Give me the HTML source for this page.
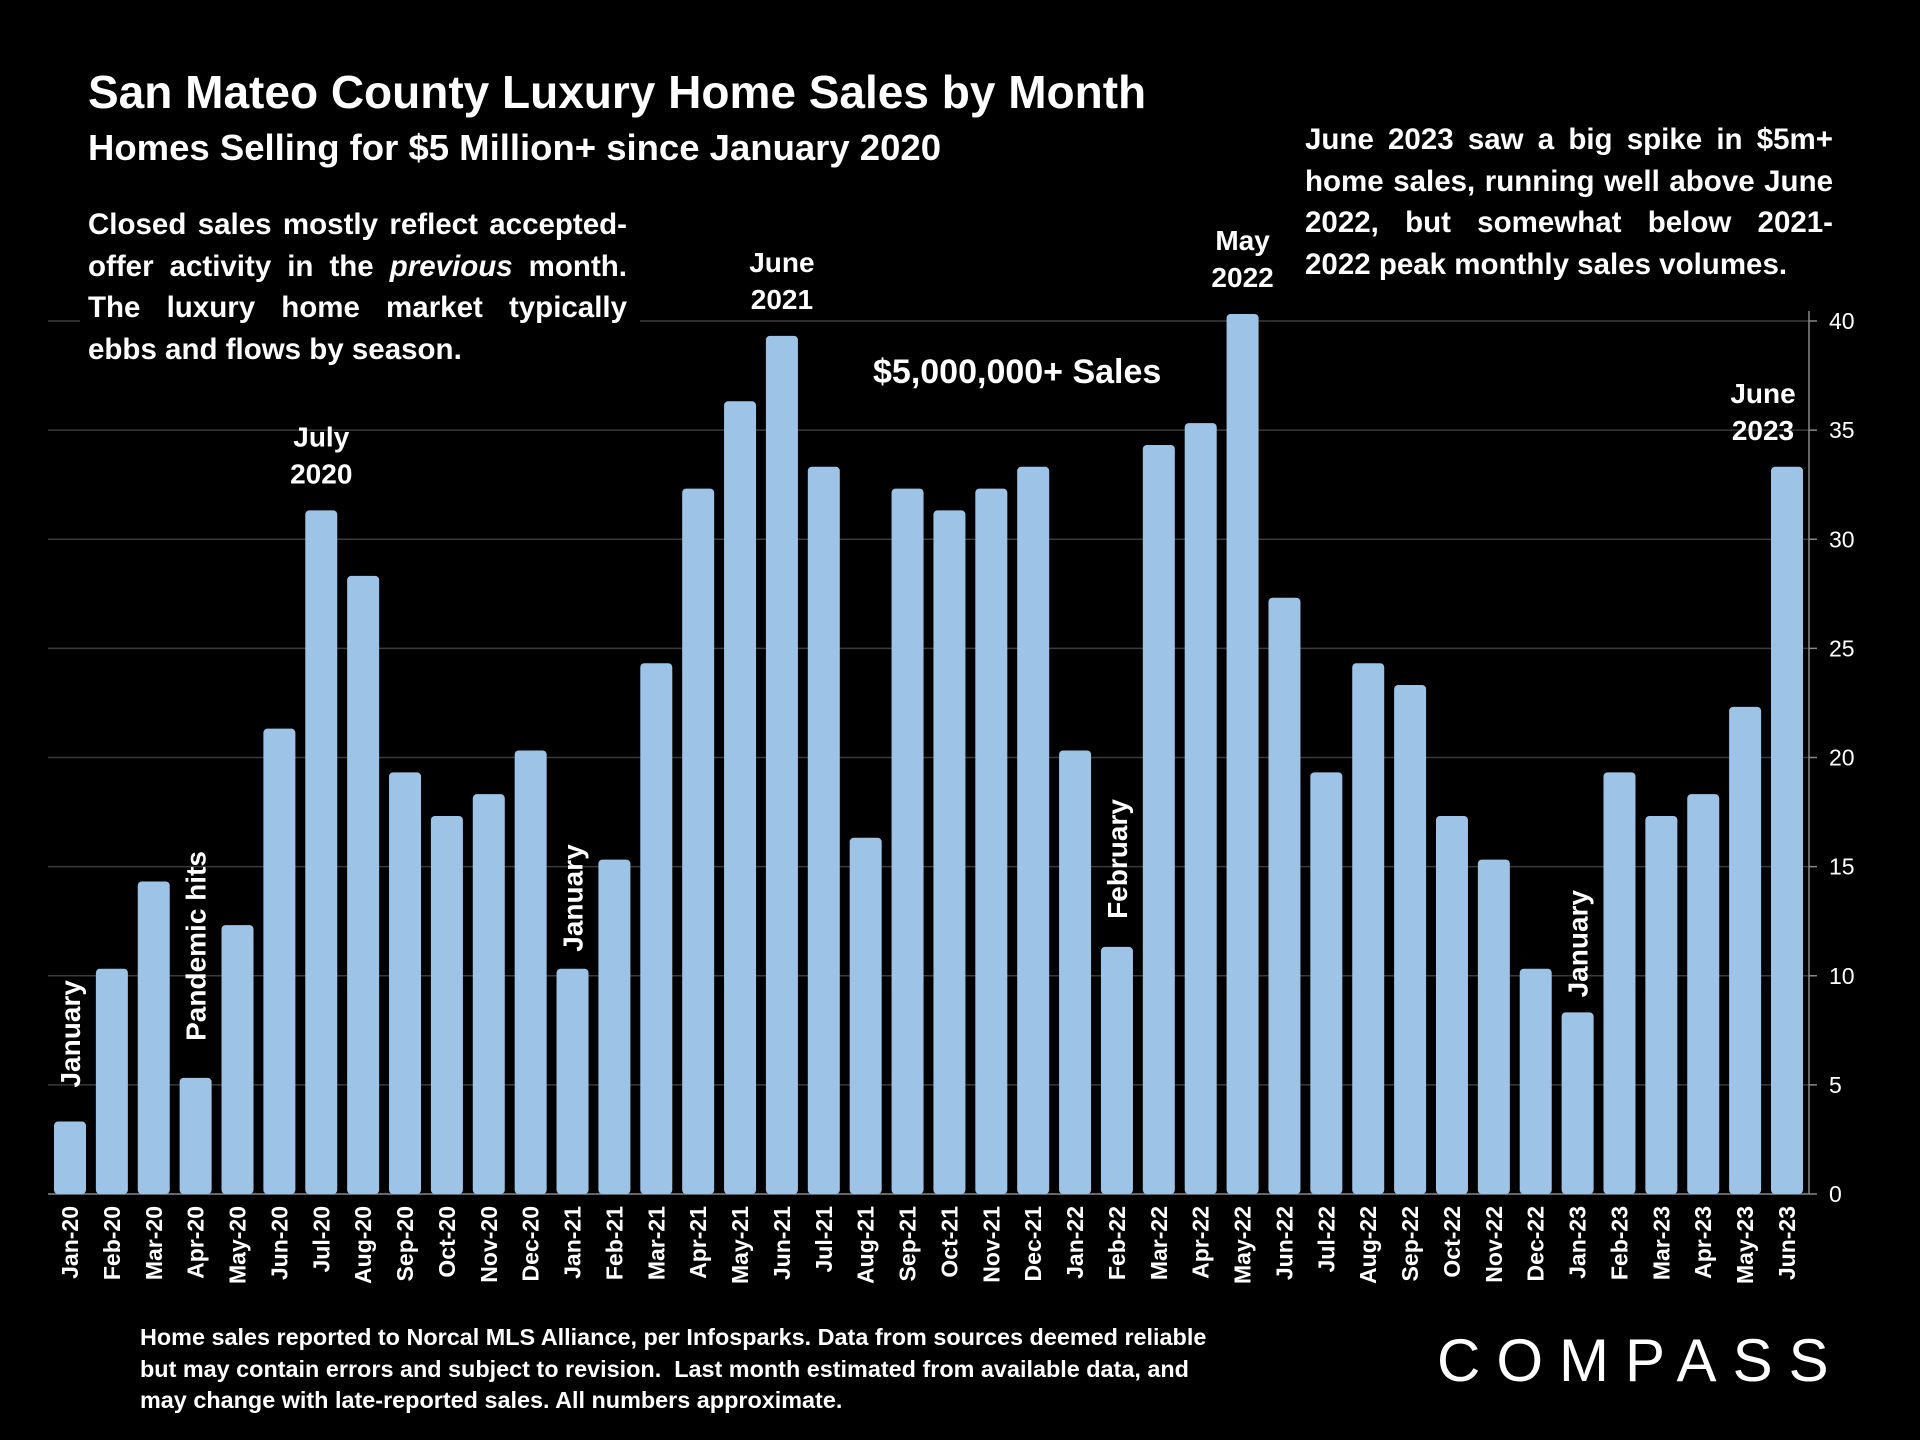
<!DOCTYPE html>
<html><head><meta charset="utf-8"><style>
body{margin:0;background:#000;width:1920px;height:1440px;overflow:hidden;font-family:"Liberation Sans",Calibri,sans-serif;color:#fff}
.t{position:absolute;font-weight:bold;white-space:nowrap}
.p{position:absolute;font-size:29.5px;font-weight:bold;line-height:41.5px}
.p div{text-align:justify;text-align-last:justify;white-space:nowrap}
.p div.l{text-align-last:left}
</style></head><body>
<svg id="chart" width="1920" height="1440" style="position:absolute;left:0;top:0"></svg>
<div class="t" style="left:88px;top:65px;font-size:46px">San Mateo County Luxury Home Sales by Month</div>
<div class="t" style="left:88px;top:127px;font-size:36.5px">Homes Selling for $5 Million+ since January 2020</div>
<div style="position:absolute;left:80px;top:200px;width:560px;height:170px;background:#000;"></div>
<div class="p" style="left:88px;top:204px;width:539px">
<div>Closed sales mostly reflect accepted-</div><div>offer activity in the <i>previous</i> month.</div><div>The luxury home market typically</div><div class="l">ebbs and flows by season.</div></div>
<div style="position:absolute;left:1300px;top:117px;width:535px;height:170px;background:#000"></div>
<div class="p" style="left:1305px;top:119px;width:528px">
<div>June 2023 saw a big spike in $5m+</div><div>home sales, running well above June</div><div>2022, but somewhat below 2021-</div><div class="l">2022 peak monthly sales volumes.</div></div>
<div class="t" style="left:873px;top:353px;font-size:34px">$5,000,000+ Sales</div>
<div style="position:absolute;left:140px;top:1322px;font-size:23.4px;font-weight:bold;line-height:31.5px;white-space:nowrap">Home sales reported to Norcal MLS Alliance, per Infosparks. Data from sources deemed reliable<br>but may contain errors and subject to revision.&nbsp; Last month estimated from available data, and<br>may change with late-reported sales. All numbers approximate.</div>
<div class="t" style="left:1437px;top:1326px;font-size:60px;font-weight:normal;letter-spacing:16px">COMPASS</div>
<script>
const categories=["Jan-20","Feb-20","Mar-20","Apr-20","May-20","Jun-20","Jul-20","Aug-20","Sep-20","Oct-20","Nov-20","Dec-20","Jan-21","Feb-21","Mar-21","Apr-21","May-21","Jun-21","Jul-21","Aug-21","Sep-21","Oct-21","Nov-21","Dec-21","Jan-22","Feb-22","Mar-22","Apr-22","May-22","Jun-22","Jul-22","Aug-22","Sep-22","Oct-22","Nov-22","Dec-22","Jan-23","Feb-23","Mar-23","Apr-23","May-23","Jun-23"];
const sales=[3,10,14,5,12,21,31,28,19,17,18,20,10,15,24,32,36,39,33,16,32,31,32,33,20,11,34,35,40,27,19,24,23,17,15,10,8,19,17,18,22,33];
const yTicks=[0,5,10,15,20,25,30,35,40];
const horizAnnots=[["July","2020",6],["June","2021",17],["May","2022",28],["June","2023",41]];
const vertAnnots=[["January",0],["Pandemic hits",3],["January",12],["February",25],["January",36]];
const vertGap=[34,37,17,28,15];
const svg=document.getElementById('chart');const NS='http://www.w3.org/2000/svg';
const y0=1194,pxU=(1194-321)/40,x0=70,step=(1787-70)/41,bw=32,axisX=1809,cap=7;
const y=v=>y0-v*pxU,x=i=>x0+i*step;
function mk(t,a){const e=document.createElementNS(NS,t);for(const k in a)e.setAttribute(k,a[k]);svg.appendChild(e);return e;}
yTicks.forEach(v=>{if(v>0){const g=mk('line',{x1:48,x2:axisX,y1:y(v),y2:y(v),stroke:'#3a3a3a','stroke-width':1.5});

}
const tk=mk('line',{x1:axisX,x2:axisX+8,y1:y(v),y2:y(v),stroke:'#888','stroke-width':1.5});


const tl=mk('text',{x:axisX+20,y:y(v)+8,fill:'#fff','font-size':23,'font-family':'Liberation Sans, sans-serif'});tl.textContent=v;

});
const ax=mk('line',{x1:axisX,x2:axisX,y1:y(40)-10,y2:y0,stroke:'#888','stroke-width':1.5});


const xa=mk('line',{x1:48,x2:axisX,y1:y0,y2:y0,stroke:'#888','stroke-width':1.5});


sales.forEach((v,i)=>{const r=mk('rect',{x:x(i)-bw/2,y:y(v)-cap,width:bw,height:y0-y(v)+cap,fill:'#9dc3e6',rx:4});


const t=mk('text',{transform:`translate(${x(i)+8},${y0+12}) rotate(-90)`,'text-anchor':'end',fill:'#fff','font-size':23,'font-weight':'bold','font-family':'Liberation Sans, sans-serif'});t.textContent=categories[i];

});
horizAnnots.forEach(a=>{const i=a[2],top=y(sales[i])-cap-27;
[a[0],a[1]].forEach((s,k)=>{const t=mk('text',{x:x(i)-(i==41?24:0),y:top-(1-k)*37,'text-anchor':'middle',fill:'#fff','font-size':28,'font-weight':'bold','font-family':'Liberation Sans, sans-serif'});t.textContent=s;

});});
vertAnnots.forEach((a,k)=>{const i=a[1];const t=mk('text',{transform:`translate(${x(i)+10},${y(sales[i])-cap-vertGap[k]}) rotate(-90)`,fill:'#fff','font-size':28,'font-weight':'bold','font-family':'Liberation Sans, sans-serif'});t.textContent=a[0];

});
</script>
</body></html>
